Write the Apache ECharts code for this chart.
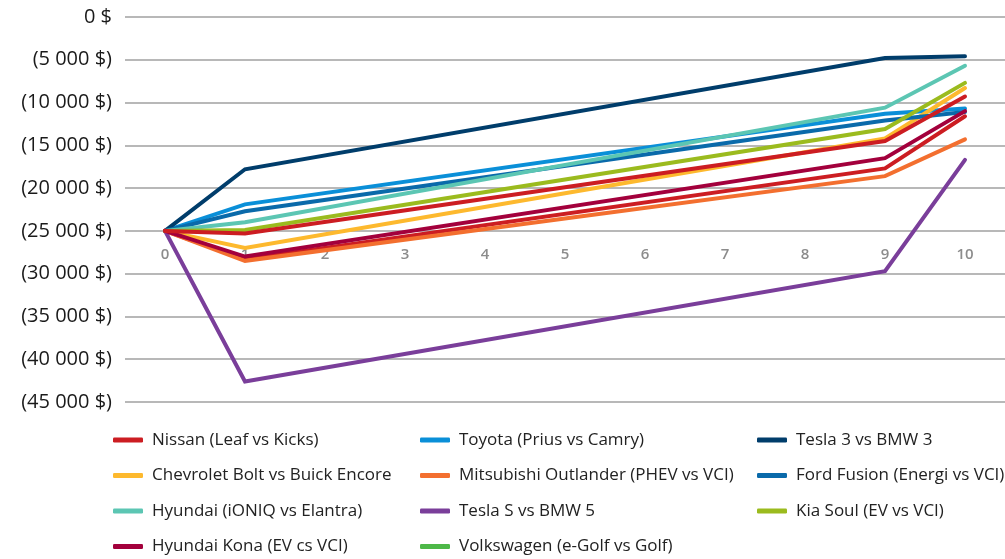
<!DOCTYPE html>
<html>
<head>
<meta charset="utf-8">
<script src="https://cdn.jsdelivr.net/npm/echarts@6/dist/echarts.min.js"></script>
<style>
  html, body { margin: 0; padding: 0; background: #fff; }
  #chart { width: 1005px; height: 559px; }
</style>
</head>
<body>
<div id="chart"></div>
<script>
// années
const years = ['0', '1', '2', '3', '4', '5', '6', '7', '8', '9', '10']
// valeurs lues aux années 0, 1, 9 et 10 (null entre les deux, lignes reliées)
const nissan = [-25000, -28300, null, null, null, null, null, null, null, -17700, -11600]
const toyota = [-25000, -21900, null, null, null, null, null, null, null, -11300, -10700]
const tesla3 = [-25000, -17800, null, null, null, null, null, null, null, -4800, -4600]
const chevrolet = [-25000, -27000, null, null, null, null, null, null, null, -14200, -8300]
const mitsubishi = [-25000, -28500, null, null, null, null, null, null, null, -18600, -14300]
const ford = [-25000, -22700, null, null, null, null, null, null, null, -12100, -11100]
const ioniq = [-25000, -24000, null, null, null, null, null, null, null, -10600, -5700]
const teslaS = [-25000, -42600, null, null, null, null, null, null, null, -29700, -16700]
const kia = [-25000, -24900, null, null, null, null, null, null, null, -13100, -7700]
const kona = [-25000, -28000, null, null, null, null, null, null, null, -16500, -11000]
const volkswagen = [-25000, -25300, null, null, null, null, null, null, null, -14500, -9300]

const names = [
  'Nissan (Leaf vs Kicks)', 'Toyota (Prius vs Camry)', 'Tesla 3 vs BMW 3',
  'Chevrolet Bolt vs Buick Encore', 'Mitsubishi Outlander (PHEV vs VCI)', 'Ford Fusion (Energi vs VCI)',
  'Hyundai (iONIQ vs Elantra)', 'Tesla S vs BMW 5', 'Kia Soul (EV vs VCI)',
  'Hyundai Kona (EV cs VCI)', 'Volkswagen (e-Golf vs Golf)'
]
const values = [nissan, toyota, tesla3, chevrolet, mitsubishi, ford, ioniq, teslaS, kia, kona, volkswagen]
const colors = ['#cc1d22', '#0a8fd8', '#003d6b', '#fdb92e', '#f36f2f', '#0a6aaa',
  '#5cc6b3', '#7a3e9a', '#9bbb1e', '#a3003c', '#cc1d22']
const legendColors = colors.slice(0, 10).concat(['#4db848'])

var myChart = echarts.init(document.getElementById('chart'))

function money (v) {
  if (v === 0) return '0 $'
  let s = String(Math.abs(v)).replace(/\B(?=(\d{3})+(?!\d))/g, ' ')
  return v < 0 ? '(' + s + ' $)' : s + ' $'
}

let series = []
for (let i = 0; i < names.length; i++) {
  series.push({
    name: names[i],
    type: 'line',
    data: values[i],
    connectNulls: true,
    showSymbol: false,
    color: colors[i],
    lineStyle: { width: 4, color: colors[i], cap: 'round', join: 'miter' }
  })
}

// légende en 3 colonnes
function legendCol (idx, left) {
  return {
    orient: 'vertical',
    left: left,
    top: 429,
    padding: 0,
    itemGap: 13.5,
    icon: 'roundRect',
    itemWidth: 30,
    itemHeight: 5,
    textStyle: { fontFamily: 'Open Sans', fontSize: 17, color: '#222', padding: [0, 0, 0, 4], lineHeight: 22 },
    data: idx.map(function (k) {
      return { name: names[k], itemStyle: { color: legendColors[k] } }
    })
  }
}

let option = {
  animation: false,
  textStyle: { fontFamily: 'Open Sans' },
  grid: { left: 125, right: 0, top: 17, bottom: 157 },
  legend: [
    legendCol([0, 3, 6, 9], 113),
    legendCol([1, 4, 7, 10], 420),
    legendCol([2, 5, 8], 757)
  ],
  xAxis: {
    type: 'category',
    data: years,
    offset: -171,
    axisLine: { show: false },
    axisTick: { show: false },
    axisLabel: { margin: 16, fontSize: 15, fontWeight: 600, color: '#8c8c8c' }
  },
  yAxis: {
    type: 'value',
    min: -45000,
    max: 0,
    interval: 5000,
    axisLine: { show: false },
    axisTick: { show: false },
    axisLabel: { formatter: money, fontSize: 20, color: '#1a1a1a', margin: 13 },
    splitLine: { lineStyle: { color: '#a0a0a0', width: 1.5 } }
  },
  series: series
}

myChart.setOption(option)
</script>
</body>
</html>
